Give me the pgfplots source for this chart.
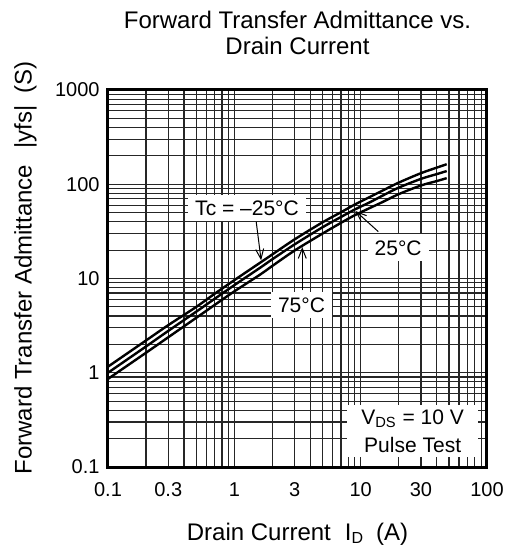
\documentclass[border=0pt]{standalone}
\usepackage{pgfplots}
\pgfplotsset{compat=1.18}
\usepackage{fontspec}
\setmainfont{Liberation Sans}
\usetikzlibrary{arrows.meta}

% |yfs| for Tc = -25, 25 and 75 C
\pgfplotstableread{
x     tm25   t25    t75
0.1   1.16   1.00   0.86
0.2   2.2    1.9    1.63
0.3   3.2    2.78   2.38
0.5   5.0    4.45   3.83
0.7   6.9    6.1    5.25
1     9.6    8.5    7.3
1.6   14.7   13.0   11.0
2     18.0   16.0   13.6
3     26.0   23.0   19.8
5     39.5   35.0   30.0
7     50.5   45.0   39.0
9     61     54     47
12    74     65     56.5
15    86     76     65
20    104    92     78.5
30    131    114    97
40    150    128    108
48    163    138    116
}\yfsdata

\newcommand\annfont{\fontsize{10.5}{14}\selectfont}

\begin{document}
\begin{tikzpicture}
\useasboundingbox (-54pt,-42pt) rectangle (202pt,233.5pt);
\begin{axis}[
    name=ax, at={(0,0)}, anchor=south west,
    scale only axis, width=189.5pt, height=188.5pt,
    xmode=log, ymode=log,
    xmin=0.1, xmax=100, ymin=0.1, ymax=1000,
    xtick={0.1,0.3,1,3,10,30,100},
    xticklabels={0.1,0.3,1,3,10,30,100},
    ytick={0.1,1,10,100,1000},
    yticklabels={0.1,1,10,100,1000},
    minor xtick={0.2,0.4,0.5,0.6,0.7,0.8,0.9,2,4,5,6,7,8,9,20,40,50,60,70,80,90},
    minor ytick={0.2,0.3,0.4,0.5,0.6,0.7,0.8,0.9,2,3,4,5,6,7,8,9,20,30,40,50,60,70,80,90,200,300,400,500,600,700,800,900},
    grid=both,
    major grid style={black!85, line width=0.6pt},
    minor grid style={black!85, line width=0.6pt},
    major tick length=0pt, minor tick length=0pt,
    axis line style={line width=1.5pt},
    tick label style={font=\fontsize{10}{12}\selectfont},
    xticklabel style={anchor=base, yshift=-14.5pt},
    yticklabel style={xshift=-0.7pt},
  ]
  \addplot[black, line width=1.2pt, smooth] table[x=x, y=tm25] {\yfsdata};
  \addplot[black, line width=1.2pt, smooth] table[x=x, y=t25] {\yfsdata};
  \addplot[black, line width=1.2pt, smooth] table[x=x, y=t75] {\yfsdata};

  \node[fill=white, inner xsep=3.5pt, inner ysep=3pt, font=\annfont]
    at (axis cs:1.26,56) {Tc = \textendash25°C};
  \draw[-{Straight Barb[length=5pt,width=4pt]}, line width=0.5pt]
    (axis cs:1.49,40) -- (axis cs:1.63,15.6);

  \node[fill=white, inner xsep=3.5pt, inner ysep=3pt, font=\annfont]
    at (axis cs:19.8,21.1) {25°C};
  \draw[-{Straight Barb[length=5pt,width=4pt]}, line width=0.5pt]
    (axis cs:13.8,31.4) -- (axis cs:9.1,52);

  \node[fill=white, inner xsep=3.5pt, inner ysep=3pt, font=\annfont]
    at (axis cs:3.4,5.24) {75°C};
  \draw[-{Straight Barb[length=5pt,width=4pt]}, line width=0.5pt]
    (axis cs:3.45,7.5) -- (axis cs:3.45,21.5);

  \node[fill=white, inner xsep=7pt, inner ysep=2.5pt, font=\annfont, align=center]
    at (axis cs:25.8,0.241) {V\textsubscript{DS} = 10 V\\Pulse Test};
\end{axis}

\node[anchor=base, font=\fontsize{12}{14}\selectfont] at (94.75pt,219.35pt)
  {Forward Transfer Admittance vs.};
\node[anchor=base, font=\fontsize{12}{14}\selectfont] at (94.75pt,206pt)
  {Drain Current};
\node[anchor=base, font=\fontsize{12}{14}\selectfont] at (94.75pt,-36.5pt)
  {Drain Current\hspace{7pt}I\textsubscript{D}\hspace{6pt}(A)};
\node[anchor=base, rotate=90, font=\fontsize{12}{14}\selectfont] at (-38.2pt,99.5pt)
  {Forward Transfer Admittance\hspace{8pt}|yfs|\hspace{6pt}(S)};
\end{tikzpicture}
\end{document}
